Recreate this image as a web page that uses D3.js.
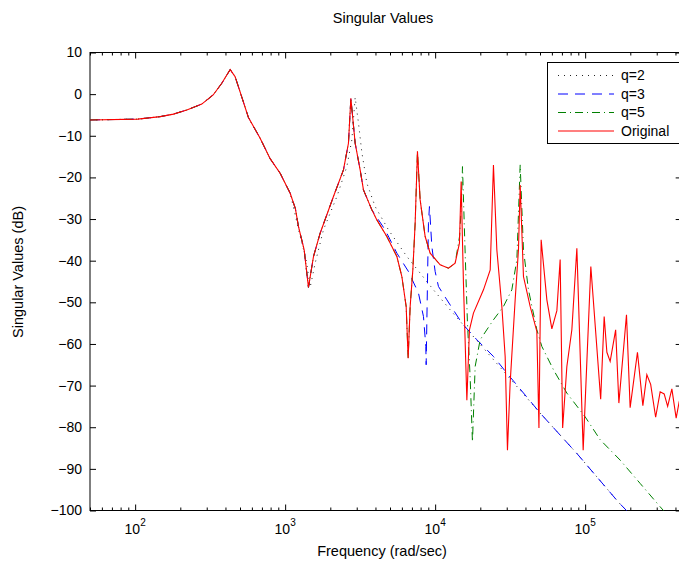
<!DOCTYPE html>
<html>
<head>
<meta charset="utf-8">
<script src="https://cdn.jsdelivr.net/npm/d3@7"></script>
<style>
  body { margin: 0; background: #fff; }
  svg { display: block; font-family: "Liberation Sans", Arial, Helvetica, sans-serif; }
</style>
</head>
<body>
<div id="chart"></div>
<script>
// frequency (rad/sec), singular value (dB)
const original = [
  [50,-6.2],[104,-6.0],[147,-5.4],[180,-4.8],[221,-3.8],[278,-2.4],[331,-0.2],[378,2.6],[430,5.9],[464,4.2],
  [569,-5.6],[681,-10.6],[794,-15.5],[926,-19],[1080,-23.8],[1170,-27.5],[1227,-31.8],[1339,-37.4],[1430,-46.4],
  [1545,-39],[1711,-33.4],[2099,-24.6],[2447,-18.2],[2642,-11.8],[2742,-1.0],[2929,-11.8],[3162,-18.2],
  [3327,-23],[3785,-27.8],[4087,-30.2],[4764,-34.2],[5557,-39],[5998,-43.8],[6408,-51],[6607,-63.4],
  [6813,-51],[7100,-42.2],[7356,-31],[7621,-13.7],[7943,-25.4],[8577,-34.2],[9261,-38.2],[10800,-41],
  [12270,-41.8],[13590,-40.6],[14520,-35.8],[14900,-21],[15440,-45.4],[16270,-73.5],[16930,-56.6],
  [18000,-52.6],[20990,-47],[23280,-42.2],[24470,-17],[25780,-37.4],[27840,-51],[29290,-63],[30340,-85.5],
  [31620,-69.4],[34150,-49.4],[35920,-37.4],[36880,-21.8],[38790,-43.8],[42990,-51],[47640,-57],[49200,-80.2],
  [50890,-35],[55560,-49.4],[59980,-56.4],[64770,-52],[68130,-39.7],[70790,-80.2],[75510,-65.4],[81530,-56.6],
  [88050,-37],[97000,-85.5],[109100,-41.4],[126900,-73.3],[133900,-53.4],[139600,-62],[146800,-64.2],
  [159700,-56.6],[167800,-74.2],[188600,-53],[199500,-75.3],[223200,-62],[242500,-74.8],[257800,-67.4],
  [273400,-69.7],[295100,-77.6],[316200,-71.5],[336300,-72],[354800,-75],[378500,-70.8],[404300,-77.8],
  [423300,-73.9],[440000,-72]
];

const q2 = [
  [50,-6.2],[104,-6.0],[147,-5.4],[180,-4.8],[221,-3.8],[278,-2.4],[331,-0.2],[378,2.6],[430,5.9],[464,4.2],
  [569,-5.6],[681,-10.6],[794,-15.5],[926,-19],[1080,-23.8],[1247,-33.5],[1384,-40],[1468,-46.4],
  [1585,-40.6],[1800,-32.6],[2212,-24.6],[2578,-17.4],[2783,-11],[2929,-0.8],[3083,-7],[3246,-14],
  [3505,-21.4],[3981,-27],[4884,-32.6],[6476,-39],[9743,-47],[12590,-51.8],[29290,-67],[50120,-76.6],
  [88050,-86.3],[166700,-98],[232600,-103.4]
];

const q3 = [
  [50,-6.2],[104,-6.0],[147,-5.4],[180,-4.8],[221,-3.8],[278,-2.4],[331,-0.2],[378,2.6],[430,5.9],[464,4.2],
  [569,-5.6],[681,-10.6],[794,-15.5],[926,-19],[1080,-23.8],[1170,-27.5],[1227,-31.8],[1339,-37.4],[1430,-46.4],
  [1545,-39],[1711,-33.4],[2099,-24.6],[2447,-18.2],[2642,-11.8],[2742,-1.0],[2929,-11.8],[3162,-18.2],
  [3327,-23],[3785,-27.8],[4642,-32.6],[5557,-38.2],[6637,-42.6],[7741,-47.8],[8356,-53.4],[8670,-60.6],
  [8710,-65],[8887,-45.4],[9023,-31],[9162,-27],[9506,-36.6],[10000,-42.6],[10520,-46.2],[11970,-49.4],
  [15070,-55],[18970,-59],[24470,-63],[29290,-66.5],[50120,-76.6],[88050,-86.3],[166700,-98],[232600,-103.4]
];

const q5 = [
  [50,-6.2],[104,-6.0],[147,-5.4],[180,-4.8],[221,-3.8],[278,-2.4],[331,-0.2],[378,2.6],[430,5.9],[464,4.2],
  [569,-5.6],[681,-10.6],[794,-15.5],[926,-19],[1080,-23.8],[1170,-27.5],[1227,-31.8],[1339,-37.4],[1430,-46.4],
  [1545,-39],[1711,-33.4],[2099,-24.6],[2447,-18.2],[2642,-11.8],[2742,-1.0],[2929,-11.8],[3162,-18.2],
  [3327,-23],[3785,-27.8],[4087,-30.2],[4764,-34.2],[5557,-39],[5998,-43.8],[6408,-51],[6607,-63.4],
  [6813,-51],[7100,-42.2],[7356,-31],[7621,-13.7],[7943,-25.4],[8577,-34.2],[9261,-38.2],[10800,-41],
  [12270,-41.8],[13590,-40.6],[14570,-34],[15020,-25],[15210,-17.4],[15850,-38.2],[16420,-55],[17110,-68],
  [17730,-83.5],[18480,-65.4],[19950,-59],[24470,-54.2],[28530,-51],[32450,-47],[35050,-39.8],[36880,-17],
  [38790,-37.4],[41880,-47],[47640,-56.6],[51440,-60.6],[61480,-66.2],[75510,-71.8],[100000,-77.5],
  [125900,-83],[171100,-87.9],[232600,-93.5],[316200,-99.1],[430000,-104.6]
];

const seriesNames = ["q=2", "q=3", "q=5", "Original"];
const yTicks = [10, 0, -10, -20, -30, -40, -50, -60, -70, -80, -90, -100];
const xMajorTicks = [1e2, 1e3, 1e4, 1e5];
const xDomain = [50, 4.4e5];
const yDomain = [-100, 10];

const W = 679, H = 562;
const plot = { left: 90, top: 52.5, bottom: 510.5, decade: 150 };
plot.right = plot.left + plot.decade * Math.log10(xDomain[1] / xDomain[0]);

const svg = d3.select("#chart").append("svg")
  .attr("width", W).attr("height", H);

const x = d3.scaleLog().domain(xDomain).range([plot.left, plot.right]);
const y = d3.scaleLinear().domain(yDomain).range([plot.bottom, plot.top]);

// minor ticks 2..9 of every decade inside the domain
const xMinorTicks = [];
[10, 100, 1000, 10000, 100000].forEach(d => {
  d3.range(2, 10).forEach(k => {
    const v = d * k;
    if (v >= xDomain[0] && v <= xDomain[1]) xMinorTicks.push(v);
  });
});

svg.append("defs").append("clipPath").attr("id", "clip")
  .append("rect")
  .attr("x", plot.left).attr("y", plot.top)
  .attr("width", plot.right - plot.left).attr("height", plot.bottom - plot.top);

// axes box
svg.append("rect")
  .attr("x", plot.left).attr("y", plot.top)
  .attr("width", plot.right - plot.left).attr("height", plot.bottom - plot.top)
  .attr("fill", "#fff").attr("stroke", "#000").attr("stroke-width", 1);

function styleAxis(g) {
  g.select(".domain").remove();
  g.selectAll("line").attr("stroke", "#000");
  g.selectAll("text").attr("fill", "#000").style("font-size", "14px");
}

svg.append("g").attr("transform", `translate(0,${plot.bottom})`)
  .call(d3.axisBottom(x).tickValues(xMajorTicks).tickSize(-6).tickFormat(""))
  .call(styleAxis);
svg.append("g").attr("transform", `translate(0,${plot.bottom})`)
  .call(d3.axisBottom(x).tickValues(xMinorTicks).tickSize(-3).tickFormat(""))
  .call(styleAxis);
svg.append("g").attr("transform", `translate(0,${plot.top})`)
  .call(d3.axisTop(x).tickValues(xMajorTicks).tickSize(-6).tickFormat(""))
  .call(styleAxis);
svg.append("g").attr("transform", `translate(0,${plot.top})`)
  .call(d3.axisTop(x).tickValues(xMinorTicks).tickSize(-3).tickFormat(""))
  .call(styleAxis);

svg.append("g").attr("transform", `translate(${plot.left},0)`)
  .call(d3.axisLeft(y).tickValues(yTicks).tickSize(-6).tickPadding(8).tickSizeOuter(0))
  .call(styleAxis);
svg.append("g").attr("transform", `translate(${plot.right},0)`)
  .call(d3.axisRight(y).tickValues(yTicks).tickSize(-6).tickFormat(""))
  .call(styleAxis);

// x tick labels 10^n
const xLab = svg.append("g").selectAll("text").data(xMajorTicks).join("text")
  .attr("x", d => x(d)).attr("y", 534)
  .attr("text-anchor", "middle")
  .style("font-size", "14px");
xLab.append("tspan").text("10");
xLab.append("tspan").attr("dy", -8).style("font-size", "10px")
  .text(d => Math.round(Math.log10(d)));

// lines
const line = d3.line().x(d => x(d[0])).y(d => y(d[1]));
const styles = [
  { data: q2, color: "#222", dash: "1,5", width: 1 },
  { data: q3, color: "#0000ff", dash: "10,7", width: 1 },
  { data: q5, color: "#008000", dash: "8,4,1,4", width: 1 },
  { data: original, color: "#ff0000", dash: null, width: 1.1 }
];

const lines = svg.append("g").attr("clip-path", "url(#clip)");
styles.forEach(s => {
  lines.append("path")
    .datum(s.data)
    .attr("d", line)
    .attr("fill", "none")
    .attr("stroke", s.color)
    .attr("stroke-width", s.width)
    .attr("stroke-dasharray", s.dash);
});

// legend
const legend = svg.append("g");
legend.append("rect")
  .attr("x", 547.5).attr("y", 62.5).attr("width", 160).attr("height", 81)
  .attr("fill", "#fff").attr("stroke", "#000");
const rowY = [75.5, 94, 112.5, 131];
styles.forEach((s, i) => {
  legend.append("line")
    .attr("x1", 558).attr("x2", 614).attr("y1", rowY[i]).attr("y2", rowY[i])
    .attr("stroke", s.color).attr("stroke-width", s.width)
    .attr("stroke-dasharray", s.dash);
  legend.append("text")
    .attr("x", 621).attr("y", rowY[i]).attr("dy", "0.35em")
    .style("font-size", "14px")
    .text(seriesNames[i]);
});

// titles
svg.append("text")
  .attr("x", 383).attr("y", 23).attr("text-anchor", "middle")
  .style("font-size", "14.5px")
  .text("Singular Values");

svg.append("text")
  .attr("x", 382).attr("y", 556).attr("text-anchor", "middle")
  .style("font-size", "14.5px")
  .text("Frequency (rad/sec)");

svg.append("text")
  .attr("transform", "translate(23,272)rotate(-90)")
  .attr("text-anchor", "middle")
  .style("font-size", "14.5px")
  .text("Singular Values (dB)");
</script>
</body>
</html>
